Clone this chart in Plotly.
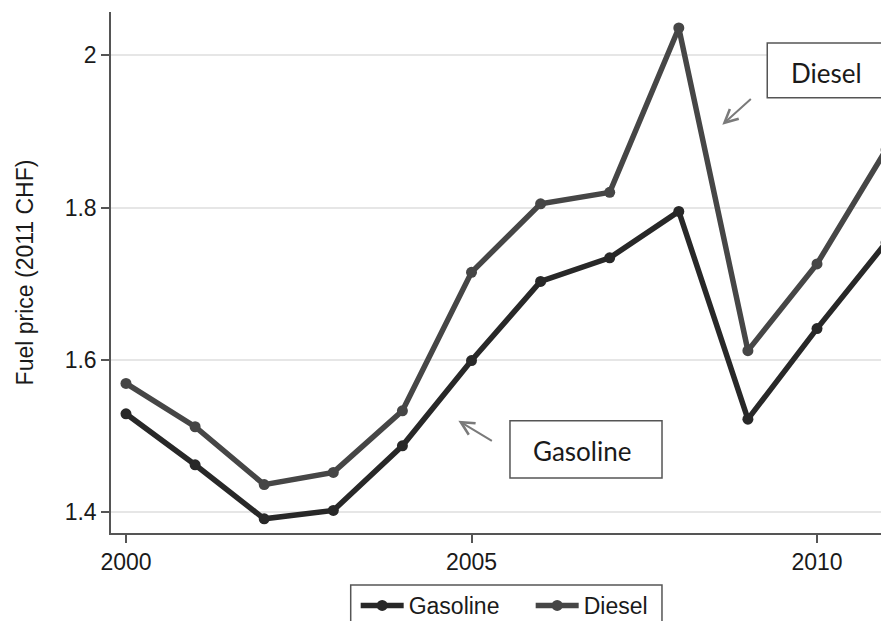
import plotly.graph_objects as go

years = [2000, 2001, 2002, 2003, 2004, 2005, 2006, 2007, 2008, 2009, 2010, 2011]
gasoline = [1.529, 1.462, 1.391, 1.402, 1.487, 1.599, 1.703, 1.734, 1.795, 1.522, 1.641, 1.754]
diesel = [1.569, 1.512, 1.436, 1.452, 1.533, 1.715, 1.805, 1.820, 2.036, 1.612, 1.726, 1.876]

x_tickvals = [2000, 2005, 2010]
x_ticktext = ["2000", "2005", "2010"]
y_tickvals = [1.4, 1.6, 1.8, 2.0]
y_ticktext = ["1.4", "1.6", "1.8", "2"]

GAS_COLOR = "#282828"
DIE_COLOR = "#464646"
FONT = "Liberation Sans, Arial, sans-serif"
ANN_FONT = "Lato, Carlito, Calibri, sans-serif"
TXT = "#1a1a1a"

fig = go.Figure()
fig.add_trace(go.Scatter(
    x=years, y=gasoline, name="Gasoline", mode="lines+markers",
    line=dict(color=GAS_COLOR, width=5.5), marker=dict(color=GAS_COLOR, size=11),
    cliponaxis=False,
))
fig.add_trace(go.Scatter(
    x=years, y=diesel, name="Diesel", mode="lines+markers",
    line=dict(color=DIE_COLOR, width=5.5), marker=dict(color=DIE_COLOR, size=11),
    cliponaxis=False,
))

# text boxes
fig.add_shape(type="rect", xref="x", yref="y", x0=2009.28, x1=2011.6, y0=1.9444, y1=2.0163,
              line=dict(color="#555555", width=1.5), fillcolor="white", layer="above")
fig.add_shape(type="rect", xref="x", yref="y", x0=2005.557, x1=2007.757, y0=1.4447, y1=1.520,
              line=dict(color="#555555", width=1.5), fillcolor="white", layer="above")

# legend frame
fig.add_shape(type="rect", xref="paper", yref="paper", x0=0.3081, x1=0.7082, y0=-0.205, y1=-0.0998,
              line=dict(color="#555555", width=1.5), fillcolor="rgba(0,0,0,0)", layer="above")

fig.add_annotation(x=2009.6, y=1.9769, xref="x", yref="y", text="Diesel", showarrow=False,
                   xanchor="left", yanchor="middle", font=dict(family=ANN_FONT, size=26, color=TXT))
fig.add_annotation(x=2006.6, y=1.4806, xref="x", yref="y", text="Gasoline", showarrow=False,
                   xanchor="center", yanchor="middle", font=dict(family=ANN_FONT, size=26, color=TXT))

# arrows
fig.add_annotation(x=2008.63, y=1.909, xref="x", yref="y", text="", showarrow=True,
                   ax=30, ay=-27, arrowhead=5, arrowsize=1.3, arrowwidth=2, arrowcolor="#7a7a7a",
                   standoff=0, startstandoff=0)
fig.add_annotation(x=2004.81, y=1.520, xref="x", yref="y", text="", showarrow=True,
                   ax=35, ay=21, arrowhead=5, arrowsize=1.3, arrowwidth=2, arrowcolor="#7a7a7a",
                   standoff=0, startstandoff=0)

# page body has an 8px margin, so the figure is offset by 8px
fig.update_layout(
    width=881, height=613,
    margin=dict(l=103, r=0, t=4, b=88, autoexpand=False),
    paper_bgcolor="white", plot_bgcolor="white",
    font=dict(family=FONT, size=23, color=TXT),
    showlegend=True,
    legend=dict(
        orientation="h", x=0.3145, y=-0.0978, xanchor="left", yanchor="top",
        borderwidth=0, bgcolor="rgba(0,0,0,0)",
        font=dict(family=FONT, size=23, color=TXT),
        itemwidth=43, entrywidth=117, entrywidthmode="pixels",
    ),
    xaxis=dict(
        range=[1999.783, 2011.042], tickvals=x_tickvals, ticktext=x_ticktext,
        showgrid=False, zeroline=False, showline=True, linecolor="#555555", linewidth=1.5,
        ticks="outside", ticklen=8, tickcolor="#555555", tickwidth=1.5,
        tickfont=dict(family=FONT, size=23, color=TXT),
    ),
    yaxis=dict(
        range=[1.3724, 2.057], tickvals=y_tickvals, ticktext=y_ticktext,
        showgrid=True, gridcolor="#e6e6e6", gridwidth=1.5, zeroline=False,
        showline=True, linecolor="#555555", linewidth=1.5,
        ticks="outside", ticklen=8, tickcolor="#555555", tickwidth=1.5,
        tickfont=dict(family=FONT, size=23, color=TXT),
        title=dict(text="Fuel price (2011 CHF)", font=dict(family=FONT, size=23, color=TXT), standoff=25),
    ),
)

fig.write_html("out.html")
